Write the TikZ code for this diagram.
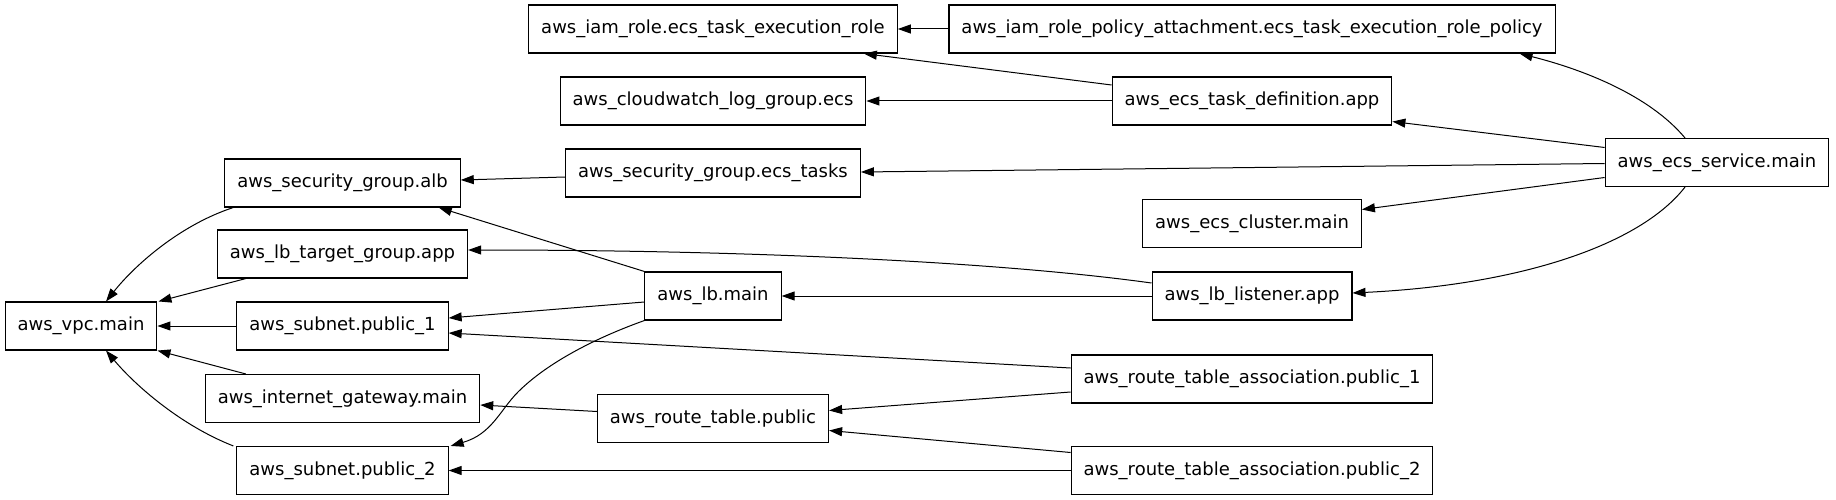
\documentclass[tikz,border=0pt]{standalone}
\usepackage{fontspec}
\setmainfont{DejaVu Sans}
\usetikzlibrary{arrows.meta}
\begin{document}
\begin{tikzpicture}[x=1pt,y=-1pt,
  res/.style={draw, line width=1.1pt, minimum height=48pt, inner xsep=12.5pt, inner ysep=0pt, font=\fontsize{18}{22}\selectfont},
  dep/.style={line width=1pt, -{Triangle[length=13pt,width=9pt]}}]
\useasboundingbox (0,0) rectangle (1836,500);
% column 1
\node[res] (vpc) at (81,326) {aws\_vpc.main};
% column 2
\node[res] (sgalb) at (342.5,183) {aws\_security\_group.alb};
\node[res] (tg) at (342.5,254) {aws\_lb\_target\_group.app};
\node[res] (sub1) at (342.5,326) {aws\_subnet.public\_1};
\node[res] (igw) at (342.5,398.5) {aws\_internet\_gateway.main};
\node[res] (sub2) at (342.5,470.5) {aws\_subnet.public\_2};
% column 3
\node[res] (iam) at (713,29) {aws\_iam\_role.ecs\_task\_execution\_role};
\node[res] (cw) at (713,101) {aws\_cloudwatch\_log\_group.ecs};
\node[res] (sgecs) at (713,173) {aws\_security\_group.ecs\_tasks};
\node[res] (lb) at (713,296) {aws\_lb.main};
\node[res] (rt) at (713,418.5) {aws\_route\_table.public};
% column 4
\node[res] (att) at (1252,29) {aws\_iam\_role\_policy\_attachment.ecs\_task\_execution\_role\_policy};
\node[res] (td) at (1252,101) {aws\_ecs\_task\_definition.app};
\node[res] (cl) at (1252,223.5) {aws\_ecs\_cluster.main};
\node[res] (lis) at (1252,296) {aws\_lb\_listener.app};
\node[res] (rta1) at (1252,379) {aws\_route\_table\_association.public\_1};
\node[res] (rta2) at (1252,470.5) {aws\_route\_table\_association.public\_2};
% column 5
\node[res] (svc) at (1717,162.5) {aws\_ecs\_service.main};

% edges
\draw[dep] (att.west) -- (iam.east);
\draw[dep] ([yshift=16pt]td.west) -- ([xshift=-34pt]iam.south east);
\draw[dep] (td.west) -- (cw.east);
\draw[dep] ([xshift=-32pt]svc.north) .. controls (1650,96) and (1585,70) .. ([xshift=-36pt]att.south east);
\draw[dep] ([yshift=15pt]svc.west) -- ([yshift=4pt]td.south east);
\draw[dep] ([yshift=-1pt]svc.west) -- ([yshift=1pt]sgecs.east);
\draw[dep] ([yshift=-15pt]svc.west) -- ([yshift=14pt]cl.east);
\draw[dep] ([xshift=-32pt]svc.south) .. controls (1640,245) and (1520,285) .. ([yshift=3pt]lis.east);
\draw[dep] ([yshift=-4pt]sgecs.west) -- ([yshift=3pt]sgalb.east);
\draw[dep] (lb.north west) -- ([xshift=-22pt]sgalb.south east);
\draw[dep] ([yshift=13pt]lis.west) .. controls (1000,262) and (750,250) .. ([yshift=4pt]tg.east);
\draw[dep] (lis.west) -- (lb.east);
\draw[dep] ([yshift=-6pt]lb.west) -- ([yshift=8pt]sub1.east);
\draw[dep] (lb.south west) .. controls (590,340) and (545,365) .. (518,392) .. controls (500,410) and (492,434) .. ([xshift=2pt]sub2.north east);
\draw[dep] (sub1.west) -- (vpc.east);
\draw[dep] ([xshift=9pt]sgalb.south west) .. controls (180,225) and (135,265) .. ([xshift=25pt]vpc.north);
\draw[dep] ([xshift=29pt]tg.south west) -- ([xshift=1pt]vpc.north east);
\draw[dep] ([xshift=41pt]igw.north west) -- (vpc.south east);
\draw[dep] ([xshift=-3pt]sub2.north west) .. controls (180,425) and (135,385) .. ([xshift=25pt]vpc.south);
\draw[dep] ([yshift=7pt]rt.west) -- ([yshift=-6.5pt]igw.east);
\draw[dep] ([yshift=11pt]rta1.west) -- ([yshift=-7pt]sub1.east);
\draw[dep] ([yshift=-13pt]rta1.west) -- ([yshift=8pt]rt.east);
\draw[dep] ([yshift=18pt]rta2.west) -- ([yshift=-12pt]rt.east);
\draw[dep] (rta2.west) -- (sub2.east);
\end{tikzpicture}
\end{document}
